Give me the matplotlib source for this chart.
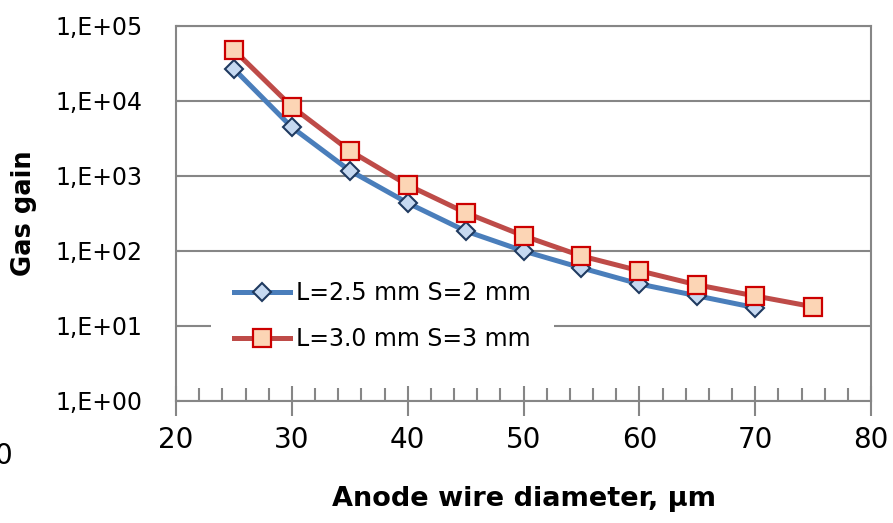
import numpy as np
import matplotlib
matplotlib.use('Agg')
import matplotlib.pyplot as plt
from matplotlib.ticker import FixedLocator, MultipleLocator, NullLocator

plt.rcParams['font.family'] = ['DejaVu Sans']

# anode wire diameter, um
d_a = [25, 30, 35, 40, 45, 50, 55, 60, 65, 70]
gain_a = [26500, 4420, 1170, 433, 183, 99, 59, 36, 25, 17.4]
label_a = 'L=2.5 mm S=2 mm'

d_b = [25, 30, 35, 40, 45, 50, 55, 60, 65, 70, 75]
gain_b = [47400, 8320, 2150, 750, 321, 158, 85, 54, 35, 24.9, 17.9]
label_b = 'L=3.0 mm S=3 mm'

yticks = [1e0, 1e1, 1e2, 1e3, 1e4, 1e5]
ytick_labels = ['1,E+00', '1,E+01', '1,E+02', '1,E+03', '1,E+04', '1,E+05']
xticks = [20, 30, 40, 50, 60, 70, 80]

grey = '#868686'

fig = plt.figure(figsize=(8.93, 5.23), dpi=100)
ax = fig.add_axes([0.1971, 0.2338, 0.9754 - 0.1971, 0.9509 - 0.2338])

ax.plot(d_a, gain_a, color='#4a7ebb', lw=3.6, marker='D', ms=9.5,
        mfc='#c6d9f1', mec='#1f3a60', mew=1.5, label=label_a, zorder=3)
ax.plot(d_b, gain_b, color='#be4b48', lw=3.6, marker='s', ms=13,
        mfc='#fcd5b5', mec='#cc0000', mew=1.6, label=label_b, zorder=4)

ax.set_yscale('log')
ax.set_ylim(1, 1e5)
ax.set_xlim(20, 80)
ax.yaxis.set_major_locator(FixedLocator(yticks))
ax.yaxis.set_minor_locator(NullLocator())
ax.set_yticklabels(ytick_labels)
ax.set_xticks(xticks)
ax.xaxis.set_minor_locator(MultipleLocator(2))

ax.grid(axis='y', color=grey, lw=1.5, zorder=1)
ax.set_axisbelow(True)
for s in ax.spines.values():
    s.set_color(grey)
    s.set_linewidth(1.5)

ax.tick_params(axis='y', which='major', direction='in', length=3, width=1.5,
               color=grey, labelsize=17, pad=24)
ax.tick_params(axis='x', which='major', direction='inout', length=21, width=1.5,
               color=grey, labelsize=20, pad=8)
ax.tick_params(axis='x', which='minor', direction='in', length=9.5, width=1.5,
               color=grey)

ax.set_xlabel('Anode wire diameter, \u03bcm', fontsize=19.5, fontweight='bold', labelpad=23)
ax.set_ylabel('Gas gain', fontsize=18.5, fontweight='bold')
ax.yaxis.set_label_coords(-0.2, 0.5)

leg = ax.legend(loc='upper left', bbox_to_anchor=(0.0327, 0.413), fontsize=17,
                handlelength=2.35, handletextpad=0.25, labelspacing=0.92,
                frameon=True, facecolor='white', edgecolor='none', framealpha=1,
                borderpad=1.0)
leg.set_zorder(2)  # white box hides the grid but not the curves

# clipped fragment from neighbouring chart
fig.text(12 / 893, 1 - 456 / 523, '0', fontsize=20, ha='right', va='center')

fig.savefig('out.png', dpi=100)
